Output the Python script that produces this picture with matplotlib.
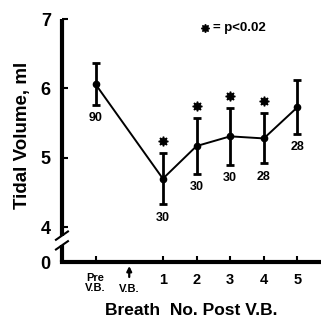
import matplotlib
matplotlib.use("Agg")
import matplotlib.pyplot as plt
from matplotlib.transforms import offset_copy, blended_transform_factory

plt.rcParams['font.family'] = ['Liberation Sans', 'DejaVu Sans']
plt.rcParams['font.weight'] = 'bold'

# Data
positions = [0, 2, 3, 4, 5, 6]
tick_labels = ['Pre\nV.B.', '1', '2', '3', '4', '5']
means = [6.06, 4.70, 5.17, 5.31, 5.28, 5.73]
sds = [0.30, 0.37, 0.40, 0.41, 0.36, 0.39]
n_labels = ['90', '30', '30', '30', '28', '28']
significant = [False, True, True, True, True, False]
ytick_values = [3.5, 4, 5, 6, 7]
ytick_labels = ['0', '4', '5', '6', '7']

fig = plt.figure(figsize=(3.21, 3.17), dpi=100)
ax = fig.add_axes([0.193, 0.1735, 0.807, 0.7665])

ax.errorbar(positions, means, yerr=sds, fmt='o-', color='black', ms=4.5,
            lw=1.4, elinewidth=2.0, capsize=3, capthick=2.0)

for x, m, s, n, sig in zip(positions, means, sds, n_labels, significant):
    ax.annotate(n, xy=(x, m - s), xytext=(0, -9.5), textcoords='offset points',
                ha='center', va='center', fontsize=9, fontweight='bold')
    if sig:
        ax.plot([x], [m + s], marker=(8, 1, 0), ms=7, color='black',
                transform=offset_copy(ax.transData, fig, x=0, y=12, units='dots'))

ax.set_xlim(-1.0, 6.7)
ax.set_ylim(3.5, 7.0)
ax.set_yticks(ytick_values)
ax.set_yticklabels(ytick_labels, fontsize=13, fontweight='bold')
ax.set_xticks(positions)
ax.set_xticklabels(tick_labels, fontsize=10.5, fontweight='bold')
ax.get_xticklabels()[0].set_fontsize(8)
ax.get_xticklabels()[0].set_linespacing(1.0)
ax.tick_params(axis='both', direction='in', length=4, width=1.5)
ax.tick_params(axis='x', pad=8)
ax.tick_params(axis='y', pad=8)

for s in ['top', 'right', 'left']:
    ax.spines[s].set_visible(False)
ax.spines['bottom'].set_linewidth(3)

# left spine with break
bt = blended_transform_factory(ax.transAxes, ax.transData)
ax.plot([0, 0], [3.5, 3.74], color='black', lw=3, transform=bt, clip_on=False, solid_capstyle='butt')
ax.plot([0, 0], [3.88, 7.0], color='black', lw=3, transform=bt, clip_on=False, solid_capstyle='butt')
dx = 6 / (fig.get_figwidth() * fig.dpi * 0.807)
for yb in [3.74, 3.88]:
    ax.plot([-dx, dx], [yb - 0.06, yb + 0.06], color='black', lw=1.5,
            transform=bt, clip_on=False)

# V.B. arrow
t_head = offset_copy(ax.transData, fig, x=0, y=-4, units='dots')
t_tail = offset_copy(ax.transData, fig, x=0, y=-15, units='dots')
ax.annotate('', xy=(1, 3.5), xycoords=t_head, xytext=(1, 3.5), textcoords=t_tail,
            arrowprops=dict(arrowstyle='-|>', color='black', lw=1.6, mutation_scale=7,
                            shrinkA=0, shrinkB=0),
            annotation_clip=False)
ax.annotate('V.B.', xy=(1, 3.5), xytext=(0, -16), textcoords='offset points',
            ha='center', va='top', fontsize=8, fontweight='bold', annotation_clip=False)

ax.set_xlabel('Breath  No. Post V.B.', fontsize=12.5, fontweight='bold', labelpad=7)
ax.set_ylabel('Tidal Volume, ml', fontsize=13.5, fontweight='bold')
ax.yaxis.set_label_coords(-0.118, 0.52)

fig.text(0.662, 0.912, '= p<0.02', fontsize=9.5, fontweight='bold', ha='left', va='center')
fig.lines.append(plt.Line2D([0.640], [0.912], marker=(8, 1, 0), ms=6, color='black',
                            transform=fig.transFigure))

fig.savefig('out.png', dpi=100)
